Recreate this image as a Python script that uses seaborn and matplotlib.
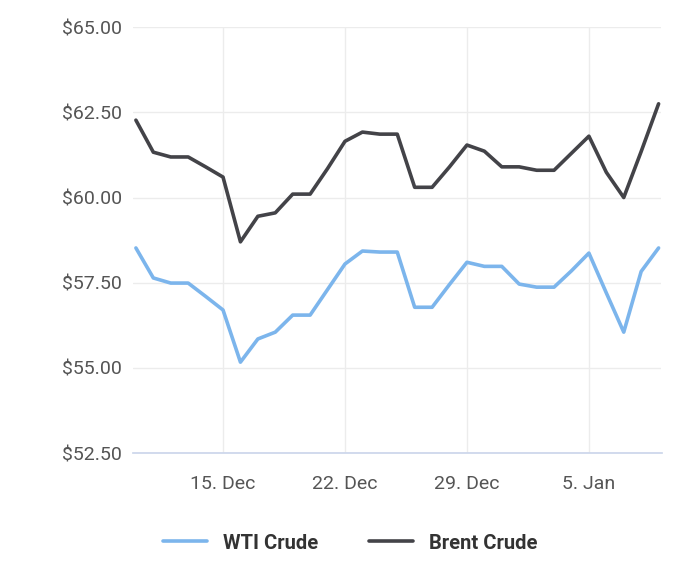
import matplotlib
matplotlib.use("Agg")
import matplotlib.pyplot as plt
import seaborn as sns
import pandas as pd
from matplotlib.lines import Line2D

dates = pd.date_range("2024-12-10", "2025-01-09", freq="D")
wti = [58.52, 57.64, 57.49, 57.49, 57.1, 56.7, 55.17, 55.85, 56.05, 56.55, 56.55, 57.3,
       58.05, 58.43, 58.4, 58.4, 56.78, 56.78, 57.45, 58.1, 57.98, 57.98, 57.46, 57.37,
       57.37, 57.85, 58.37, 57.2, 56.05, 57.83, 58.52]
brent = [62.27, 61.33, 61.19, 61.19, 60.9, 60.6, 58.7, 59.45, 59.55, 60.1, 60.1, 60.85,
         61.65, 61.92, 61.86, 61.86, 60.3, 60.3, 60.9, 61.54, 61.36, 60.9, 60.9, 60.8,
         60.8, 61.3, 61.8, 60.74, 60.0, 61.35, 62.75]
yticks = [52.5, 55.0, 57.5, 60.0, 62.5, 65.0]

df = pd.DataFrame({"date": list(dates) * 2, "price": wti + brent,
                   "series": ["WTI Crude"] * len(dates) + ["Brent Crude"] * len(dates)})

sns.set_theme(style="white")
plt.rcParams['font.family'] = ['Roboto', 'DejaVu Sans']
fig, ax = plt.subplots(figsize=(7, 5.65), dpi=100)
fig.subplots_adjust(left=0.19, right=0.945, bottom=0.198, top=0.952)
sns.lineplot(data=df, x="date", y="price", hue="series",
             palette={"WTI Crude": "#7cb5ec", "Brent Crude": "#434348"},
             linewidth=2.6, ax=ax, legend=False)
ax.set_ylim(52.5, 65)
ax.set_yticks(yticks)
ax.set_yticklabels([f"${v:.2f}" for v in yticks])
ax.set_xlim(pd.Timestamp("2024-12-09 20:00"), pd.Timestamp("2025-01-09 04:00"))
ticks = pd.to_datetime(["2024-12-15", "2024-12-22", "2024-12-29", "2025-01-05"])
ax.set_xticks(ticks)
ax.set_xticklabels(["15. Dec", "22. Dec", "29. Dec", "5. Jan"])
ax.grid(True, color="#ececec", linewidth=1)
for s in ["top", "right", "left"]:
    ax.spines[s].set_visible(False)
ax.spines["bottom"].set_color("#ccd6eb")
ax.tick_params(axis="both", colors="#555555", labelsize=14, length=0, pad=8)
ax.tick_params(axis="x", length=8, color="#ccd6eb", direction="out")
ax.set_xlabel("")
ax.set_ylabel("")
h = [Line2D([], [], color="#7cb5ec", lw=2.6), Line2D([], [], color="#434348", lw=2.6)]
leg = fig.legend(h, ["WTI Crude", "Brent Crude"], loc="lower center", ncol=2,
                 frameon=False, bbox_to_anchor=(0.5, -0.01), handlelength=2.2,
                 columnspacing=2.5, prop={"weight": "bold", "size": 14.5})
for t in leg.get_texts():
    t.set_color("#333333")
fig.savefig("out.png", dpi=100)
